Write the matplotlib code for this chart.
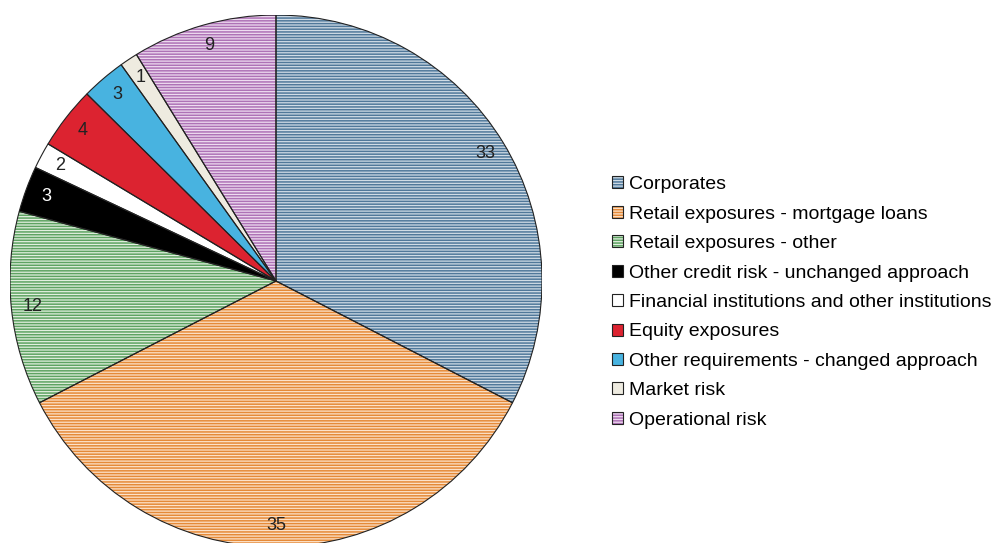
import matplotlib.pyplot as plt
from matplotlib.patches import Patch, Wedge

plt.rcParams['font.family'] = ['Liberation Sans', 'DejaVu Sans']
plt.rcParams['hatch.linewidth'] = 1.1

categories = ['Corporates', 'Retail exposures - mortgage loans', 'Retail exposures - other',
              'Other credit risk - unchanged approach', 'Financial institutions and other institutions',
              'Equity exposures', 'Other requirements - changed approach', 'Market risk',
              'Operational risk']
values = [32.6, 34.9, 11.8, 2.8, 1.6, 3.8, 2.7, 1.1, 8.8]
face_colors = ['#d0dce6', '#fce2ca', '#e2efdf', '#000000', '#ffffff', '#dc2330', '#48b3e0', '#eeebe0', '#eedcf0']
hatch_colors = ['#50789a', '#e58a38', '#5ea362', None, None, None, None, None, '#ae72b6']
label_colors = ['#222222', '#222222', '#222222', 'white', '#222222', '#222222', '#222222', '#222222', '#222222']

fig = plt.figure(figsize=(9.97, 5.43), dpi=100)
ax = fig.add_axes([10 / 997, -4 / 543, 532 / 997, 532 / 543])

vals = iter(values)
wedges, texts, autotexts = ax.pie(values, startangle=90, counterclock=False, radius=1,
                                  colors=face_colors, autopct=lambda p: f"{next(vals):.0f}",
                                  pctdistance=0.92,
                                  wedgeprops=dict(linewidth=0),
                                  textprops=dict(fontsize=13))
ax.set_xlim(-1, 1)
ax.set_ylim(-1, 1)
ax.set_aspect('equal')
ax.axis('off')

handles = []
for w, fc, hc, tc, t in zip(wedges, face_colors, hatch_colors, label_colors, autotexts):
    t.set_color(tc)
    if hc:
        w.set_hatch('-' * 6)
        w.set_edgecolor(hc)
    ax.add_patch(Wedge(w.center, w.r, w.theta1, w.theta2,
                       fill=False, edgecolor='#222222', linewidth=0.8))
    hp = Patch(facecolor=fc, edgecolor=hc if hc else fc, hatch='-' * 6 if hc else None, linewidth=0)
    op = Patch(fill=False, edgecolor='#222222', linewidth=0.8)
    handles.append((hp, op))

ax.legend(handles, categories, loc='center left', bbox_to_anchor=(612 / 997, 1 - 302.5 / 543),
          bbox_transform=fig.transFigure, frameon=False, fontsize=14,
          handlelength=0.57, handleheight=0.57, handletextpad=0.3, labelspacing=0.64,
          borderpad=0, borderaxespad=0)

fig.savefig('out.png', dpi=100)
